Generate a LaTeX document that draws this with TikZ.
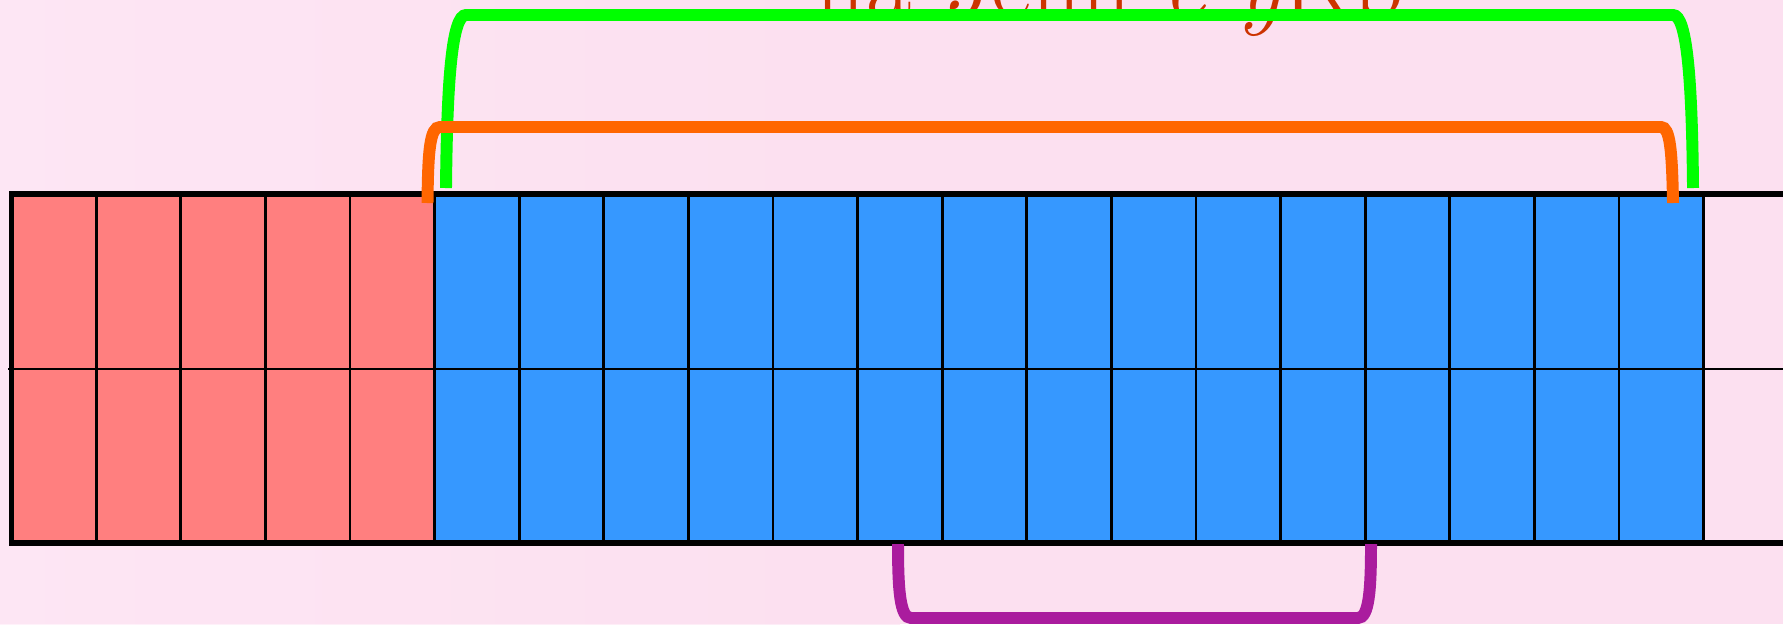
\documentclass[tikz,border=0pt]{standalone}
\definecolor{bgpink}{RGB}{252,224,240}
\definecolor{bglight}{RGB}{255,234,247}
\definecolor{cellred}{RGB}{255,127,127}
\definecolor{cellblue}{RGB}{54,152,255}
\definecolor{brgreen}{RGB}{0,255,0}
\definecolor{brorange}{RGB}{255,102,0}
\definecolor{brpurple}{RGB}{170,28,158}
\definecolor{titlecol}{RGB}{204,51,0}
\begin{document}
\begin{tikzpicture}[x=0.01cm,y=-0.01cm,
  gridline/.style={line width=0.8pt,black},
  border/.style={line width=1.7pt,black,line join=miter},
  bracket/.style={line width=3.4pt,line cap=butt}]
\useasboundingbox (0,0) rectangle (1783,624);
\clip (0,0) rectangle (1783,624);
\fill[bgpink] (0,0) rectangle (1783,624);
\shade[left color=bglight,right color=bgpink,opacity=0.6] (0,0) rectangle (900,624);
% cells
\foreach \i in {0,...,4}
  \fill[cellred] ({11.5+84.6*\i},194) rectangle ({11.5+84.6*(\i+1)},543);
\foreach \i in {5,...,19}
  \fill[cellblue] ({11.5+84.6*\i},194) rectangle ({11.5+84.6*(\i+1)},543);
% grid lines
\foreach \i in {1,...,20}
  \draw[gridline] ({11.5+84.6*\i},194) -- ({11.5+84.6*\i},543);
\draw[gridline] (8,369) -- (1783,369);
\draw[border] (1783,194) -- (11.5,194) -- (11.5,543) -- (1783,543);
% clipped title (only its lower part lies inside the picture)
\node[anchor=base west,text=titlecol,inner sep=0pt,font=\fontsize{28}{32}\selectfont] (title) at (815,16)
  {na {\itshape J}enn {\itshape e} {\itshape y}Kb};
% bracket end points
\coordinate (gL) at (446,188);
\coordinate (gR) at (1693,188);
\coordinate (oL) at (427.5,203);
\coordinate (oR) at (1673,203);
\coordinate (pL) at (898,544);
\coordinate (pR) at (1371,544);
% brackets
\draw[bracket,brgreen] (gL) .. controls (447,80) and (452,15) .. (466,15)
  -- (1673,15) .. controls (1687,15) and (1692,80) .. (gR);
\draw[bracket,brorange] (oL) .. controls (428,150) and (430,127) .. (440,127)
  -- (1661,127) .. controls (1670,127) and (1672,150) .. (oR);
\draw[bracket,brpurple] (pL) .. controls (898,590) and (900,618) .. (911,618)
  -- (1358,618) .. controls (1369,618) and (1371,590) .. (pR);
\end{tikzpicture}
\end{document}
